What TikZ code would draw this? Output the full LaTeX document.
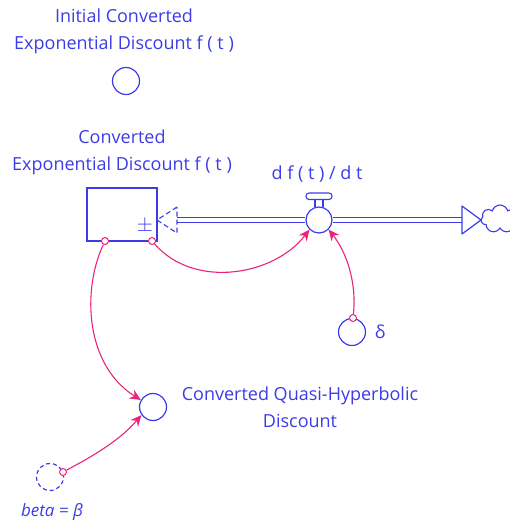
\documentclass[tikz,border=0pt]{standalone}
\usepackage{fontspec}
\setmainfont{Open Sans}
\usetikzlibrary{arrows.meta,shapes.symbols}
\definecolor{sdblue}{RGB}{60,60,230}
\definecolor{sdpink}{RGB}{235,35,125}
\begin{document}
\begin{tikzpicture}[x=1pt,y=-1pt,
  lbl/.style={text=sdblue,font=\fontsize{18}{27}\selectfont,align=center,inner sep=0pt},
  aux/.style={circle,draw=sdblue,line width=1.2pt,minimum size=27pt,inner sep=0pt},
  stockbox/.style={rectangle,draw=sdblue,line width=1.2pt,minimum width=70pt,minimum height=53pt,inner sep=0pt},
  pinkdot/.style={circle,draw=sdpink,fill=white,line width=1pt,minimum size=7pt,inner sep=0pt},
  link/.style={draw=sdpink,line width=1.1pt,-{Stealth[length=11pt,width=10pt]}},
  pipe/.style={draw=sdblue,double=white,double distance=3.5pt,line width=1.1pt}
]
\useasboundingbox (0,0) rectangle (510,523);
% Initial
\node[lbl] (initlbl) at (124,31) {Initial Converted\\Exponential Discount f ( t )};
\node[aux] (init) at (126,81) {};
% stock
\node[lbl] (stocklbl) at (122,152) {Converted\\Exponential Discount f ( t )};
\node[stockbox] (stock) at (122,214.5) {};
\node[text=sdblue,inner sep=0pt,font=\fontsize{20}{20}\selectfont] (pm) at (145,226) {$\pm$};
% valve
\node[circle,draw=sdblue,fill=white,line width=1.2pt,minimum size=26pt,inner sep=0pt] (valve) at (319,220) {};
\node[lbl] (valvelbl) at (317,174) {d f ( t ) / d t};
% pipes
\coordinate (pipeL) at (177,220);
\coordinate (pipeR) at (462,220);
\draw[pipe] (pipeL) -- (valve.west);
\draw[pipe] (valve.east) -- (pipeR);
% dashed hollow arrowhead into stock
\coordinate (tipL) at (157,220);
\draw[sdblue,line width=1.1pt,dash pattern=on 5pt off 3pt] (pipeL) ++(0,-13) -- (tipL) -- ++(20,13) -- cycle;
% right arrowhead
\coordinate (tipR) at (481,220);
\draw[sdblue,line width=1.2pt,fill=white,line join=round] (pipeR) ++(0,-14) -- (tipR) -- ++(-19,14) -- cycle;
% cloud
\node[cloud,cloud puffs=7,draw=sdblue,line width=1.1pt,minimum width=38pt,minimum height=28pt,inner sep=0pt,aspect=1.3] (cloud) at (500,219) {};
% valve top
\draw[sdblue,line width=1.1pt] (315,207) -- (315,199) (323,207) -- (323,199);
\draw[sdblue,line width=1.1pt,fill=white,rounded corners=3pt] (306,193) rectangle (332,199.5);
% delta
\node[aux] (delta) at (352,332) {};
\node[lbl] (deltalbl) at (380,332) {δ};
% quasi
\node[aux] (quasi) at (153,407) {};
\node[lbl] (quasilbl) at (300,407.5) {Converted Quasi-Hyperbolic\\Discount};
% beta
\node[aux,dash pattern=on 4pt off 3pt] (beta) at (50,477) {};
\node[lbl,font=\fontsize{17}{17}\selectfont\itshape] (betalbl) at (52,512) {beta = β};
% link origins
\node[pinkdot] (s1) at (105,241) {};
\node[pinkdot] (s2) at (152,241) {};
\node[pinkdot] (d1) at (353,318) {};
\node[pinkdot] (b1) at (63,472) {};
% links
\draw[link] (s2) .. controls (195,290) and (275,275) .. (valve.225);
\draw[link] (d1) .. controls (357,280) and (345,250) .. (valve.-45);
\draw[link] (s1) .. controls (82,290) and (85,365) .. (quasi.150);
\draw[link] (b1) .. controls (95,455) and (120,440) .. (quasi.215);
\end{tikzpicture}
\end{document}
